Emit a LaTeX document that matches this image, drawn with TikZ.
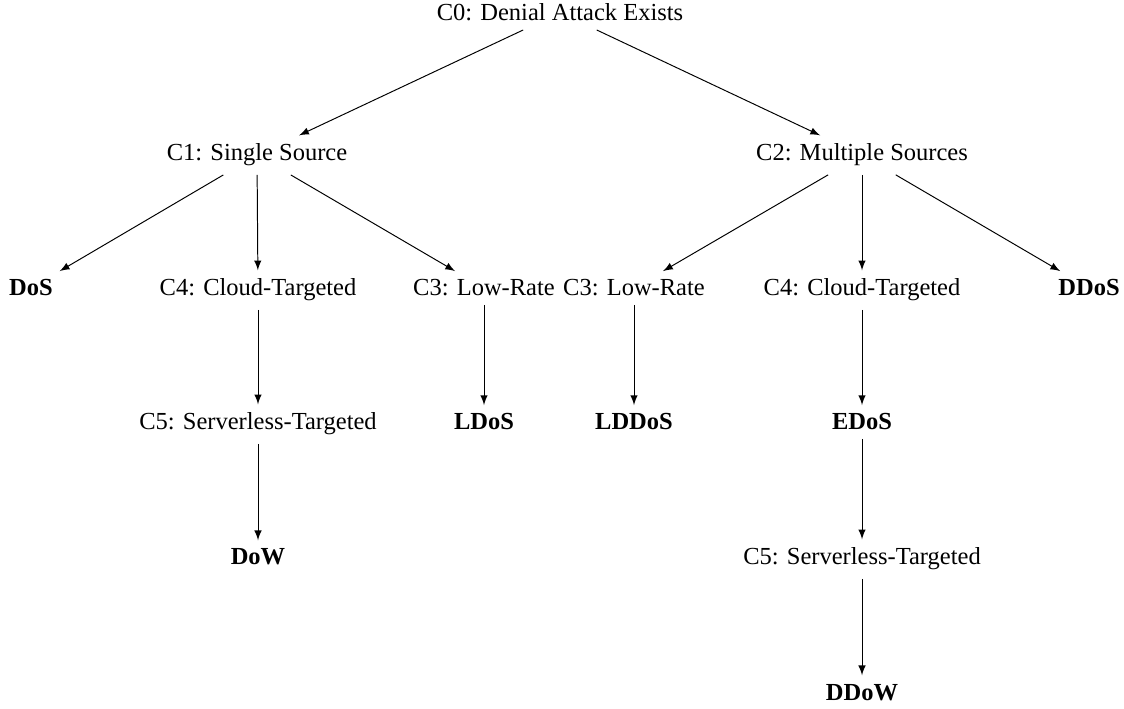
\documentclass[tikz,border=0pt]{standalone}
\usepackage{fontspec}
\setmainfont{Liberation Serif}
\begin{document}
\begin{tikzpicture}[x=0.408pt,y=-0.408pt,
  lbl/.style={anchor=base,inner sep=3.33pt,font=\fontsize{10}{12}\selectfont},
  leaf/.style={lbl,font=\fontsize{10}{12}\selectfont\bfseries},
  arr/.style={-latex,line width=0.4pt}]
\useasboundingbox (0,0) rectangle (1124,709);
% level 0
\node[lbl] (c0) at (560,21) {C0: Denial Attack Exists};
% level 1
\node[lbl] (c1) at (257,161) {C1: Single Source};
\node[lbl] (c2) at (862,161) {C2: Multiple Sources};
% level 2
\node[leaf] (dos) at (31,296) {DoS};
\node[lbl] (c4a) at (258,296) {C4: Cloud-Targeted};
\node[lbl] (c3a) at (484,296) {C3: Low-Rate};
\node[lbl] (c3b) at (634,296) {C3: Low-Rate};
\node[lbl] (c4b) at (862,296) {C4: Cloud-Targeted};
\node[leaf] (ddos) at (1089,296) {DDoS};
% level 3
\node[lbl] (c5a) at (258,430) {C5: Serverless-Targeted};
\node[leaf] (ldos) at (484,430) {LDoS};
\node[leaf] (lddos) at (634,430) {LDDoS};
\node[leaf] (edos) at (862,430) {EDoS};
% level 4
\node[leaf] (dow) at (258,565) {DoW};
\node[lbl] (c5b) at (862,565) {C5: Serverless-Targeted};
% level 5
\node[leaf] (ddow) at (862,700) {DDoW};
% edges
\draw[arr] (c0) -- (c1);
\draw[arr] (c0) -- (c2);
\draw[arr] (c1) -- (dos);
\draw[arr] (c1) -- (c4a);
\draw[arr] (c1) -- (c3a);
\draw[arr] (c2) -- (c3b);
\draw[arr] (c2) -- (c4b);
\draw[arr] (c2) -- (ddos);
\draw[arr] (c4a) -- (c5a);
\draw[arr] (c3a) -- (ldos);
\draw[arr] (c3b) -- (lddos);
\draw[arr] (c4b) -- (edos);
\draw[arr] (c5a) -- (dow);
\draw[arr] (edos) -- (c5b);
\draw[arr] (c5b) -- (ddow);
\end{tikzpicture}
\end{document}
